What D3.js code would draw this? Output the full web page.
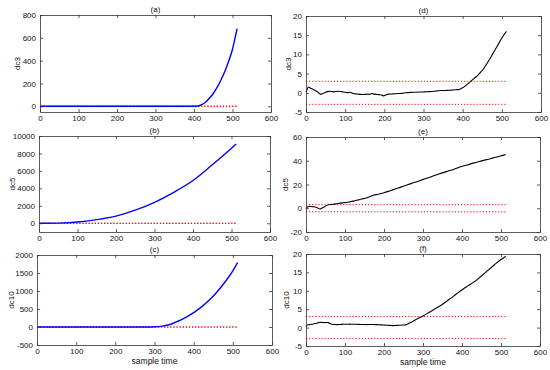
<!DOCTYPE html>
<html><head><meta charset="utf-8">
<script src="https://cdn.jsdelivr.net/npm/d3@7"></script>
<style>
html,body{margin:0;padding:0;background:#fff;}
svg text{font-family:"Liberation Sans",Arial,Helvetica,sans-serif;}
</style></head>
<body><svg id="c" width="550" height="370"></svg>
<script>
// ---- data ----
const xTicks = [0,100,200,300,400,500,600];
const thresholds = [3,-3];
const thresholdSpan = [0,512];

const dc3BlueT = [0,400,410,420,430,440,450,460,470,480,490,500,507,512];
const dc3BlueV = [0,0,3,15,36,70,112,165,230,305,395,500,605,680];

const dc5BlueT = [0,50,100,150,200,250,300,350,400,450,500,512];
const dc5BlueV = [0,20,140,420,820,1500,2400,3550,4900,6700,8600,9080];

const dc10BlueT = [0,280,300,320,340,360,380,400,420,440,460,480,500,512];
const dc10BlueV = [0,0,5,25,70,160,270,400,560,750,980,1250,1560,1790];

const dc3BlackT = [0,3,6,12,18,23,30,38,44,49,55,62,70,76,83,90,96,105,113,121,130,138,146,155,162,168,175,182,188,194,198,204,211,220,227,233,245,255,267,280,292,305,315,327,335,344,355,365,372,382,391,396,400,408,415,421,430,438,446,453,460,468,476,485,494,502,512];
const dc3BlackV = [0.2,0.9,1.5,1.2,0.9,0.6,0.2,-0.4,-0.1,0.1,0.3,0.4,0.25,0.35,0.4,0.3,0.2,0.05,0.15,-0.2,-0.3,-0.4,-0.45,-0.35,-0.4,-0.2,-0.35,-0.45,-0.5,-0.6,-0.8,-0.55,-0.35,-0.3,-0.25,-0.2,-0.15,0.0,0.1,0.15,0.2,0.25,0.3,0.4,0.5,0.6,0.6,0.65,0.7,0.8,0.9,1.1,1.3,1.9,2.5,3.0,3.8,4.5,5.4,6.2,7.3,8.6,10.0,11.6,13.2,14.6,16.0];

const dc5BlackT = [0,3,10,16,23,30,36,40,44,50,57,64,70,78,87,95,104,112,121,130,138,147,156,165,173,185,198,211,224,237,250,262,275,288,301,314,326,339,352,365,378,390,403,416,429,442,455,468,480,492,502,512];
const dc5BlackV = [-0.6,0.9,1.7,1.4,1.1,0.3,-0.6,0,0.6,1.8,2.9,3.2,3.4,3.8,4.3,4.6,4.9,5.4,6.0,6.7,7.4,8.1,8.9,9.9,10.9,11.8,12.9,14.2,15.7,17.1,18.6,20.0,21.4,22.8,24.3,25.7,27.1,28.6,30.0,31.3,32.6,34.1,35.5,36.7,38.0,39.2,40.3,41.3,42.4,43.4,44.3,45.2];

const dc10BlackT = [0,3,8,15,21,27,32,36,42,49,53,57,62,66,72,79,88,96,104,112,120,130,140,148,156,165,173,181,190,199,207,215,224,232,241,249,256,263,271,278,284,292,301,313,326,339,352,365,378,390,403,416,429,440,447,455,465,476,488,500,512];
const dc10BlackV = [0.3,0.7,0.8,0.9,1.05,1.2,1.35,1.45,1.4,1.35,1.4,1.35,1.1,0.9,0.85,0.8,0.85,0.9,0.9,0.95,0.9,0.9,0.85,0.85,0.8,0.85,0.85,0.8,0.75,0.7,0.65,0.6,0.55,0.6,0.65,0.7,0.75,1.1,1.55,1.95,2.3,2.75,3.2,4.0,4.8,5.6,6.5,7.5,8.5,9.5,10.5,11.4,12.3,13.1,13.8,14.5,15.4,16.4,17.5,18.5,19.4];

// ---- layout ----
const panels = [
  {title:"(a)", ylab:"dc3",  t:dc3BlueT,  v:dc3BlueV,  color:"#0000ff", w:1.4, yDom:[-50,800],   yTicks:[0,200,400,600,800],            x0:40,  x1:271, y0:15,  y1:112, ylx:17},
  {title:"(b)", ylab:"dc5",  t:dc5BlueT,  v:dc5BlueV,  color:"#0000ff", w:1.4, yDom:[-1000,10000],yTicks:[0,2000,4000,6000,8000,10000],x0:39,  x1:270, y0:136, y1:232, ylx:12},
  {title:"(c)", ylab:"dc10", t:dc10BlueT, v:dc10BlueV, color:"#0000ff", w:1.4, yDom:[-500,2000],  yTicks:[-500,0,500,1000,1500,2000],   x0:37,  x1:272, y0:255, y1:345, ylx:11, xlab:true},
  {title:"(d)", ylab:"dc3",  t:dc3BlackT, v:dc3BlackV, color:"#000000", w:1.1, yDom:[-5,20],      yTicks:[-5,0,5,10,15,20],             x0:306, x1:541, y0:16,  y1:112, ylx:288},
  {title:"(e)", ylab:"dc5",  t:dc5BlackT, v:dc5BlackV, color:"#000000", w:1.1, yDom:[-20,60],     yTicks:[-20,0,20,40,60],              x0:306, x1:540, y0:137, y1:232, ylx:285},
  {title:"(f)", ylab:"dc10", t:dc10BlackT,v:dc10BlackV,color:"#000000", w:1.1, yDom:[-5,20],      yTicks:[-5,0,5,10,15,20],             x0:306, x1:540, y0:254, y1:346, ylx:286, xlab:true}
];

const svg = d3.select("#c");
const fs = 8;
const fmt = d => String(d);

panels.forEach(p => {
  const x = d3.scaleLinear().domain([0,600]).range([p.x0,p.x1]);
  const y = d3.scaleLinear().domain(p.yDom).range([p.y1,p.y0]);
  const g = svg.append("g");

  thresholds.forEach(th => {
    g.append("line")
      .attr("x1", x(thresholdSpan[0])).attr("x2", x(thresholdSpan[1]))
      .attr("y1", y(th)).attr("y2", y(th))
      .attr("stroke","#ff0000").attr("stroke-width",1)
      .attr("stroke-dasharray","1.2,1.9");
  });

  const pts = p.t.map((t,i)=>[t,p.v[i]]);
  g.append("path").datum(pts)
    .attr("fill","none").attr("stroke",p.color).attr("stroke-width",p.w)
    .attr("stroke-linejoin","round")
    .attr("d", d3.line().x(d=>x(d[0])).y(d=>y(d[1])).curve(d3.curveMonotoneX));

  const axStyle = sel => {
    sel.selectAll("path,line").attr("stroke","#333").attr("stroke-width",0.8);
    sel.selectAll("text").attr("fill","#111").attr("font-size",fs)
      .attr("font-family",'"Liberation Sans",Arial,sans-serif');
  };
  g.append("g").attr("transform",`translate(0,${p.y1})`)
    .call(d3.axisBottom(x).tickValues(xTicks).tickFormat(fmt).tickSize(-3).tickSizeOuter(0).tickPadding(3))
    .call(axStyle);
  g.append("g").attr("transform",`translate(0,${p.y0})`)
    .call(d3.axisTop(x).tickValues(xTicks).tickSize(-3).tickSizeOuter(0).tickFormat(""))
    .call(axStyle);
  g.append("g").attr("transform",`translate(${p.x0},0)`)
    .call(d3.axisLeft(y).tickValues(p.yTicks).tickFormat(fmt).tickSize(-3).tickSizeOuter(0).tickPadding(4))
    .call(axStyle);
  g.append("g").attr("transform",`translate(${p.x1},0)`)
    .call(d3.axisRight(y).tickValues(p.yTicks).tickSize(-3).tickSizeOuter(0).tickFormat(""))
    .call(axStyle);
  g.selectAll(".domain").attr("fill","none");

  g.append("text").attr("x",(p.x0+p.x1)/2).attr("y",p.y0-3.5)
    .attr("text-anchor","middle").attr("font-size",fs).attr("fill","#111").text(p.title);
  g.append("text").attr("transform",`translate(${p.ylx},${(p.y0+p.y1)/2}) rotate(-90)`)
    .attr("text-anchor","middle").attr("dy","0.35em").attr("font-size",fs).attr("fill","#111").text(p.ylab);
  if (p.xlab) {
    g.append("text").attr("x",(p.x0+p.x1)/2).attr("y",p.y1+19)
      .attr("text-anchor","middle").attr("font-size",fs+0.5).attr("fill","#111").text("sample time");
  }
});
</script></body></html>
